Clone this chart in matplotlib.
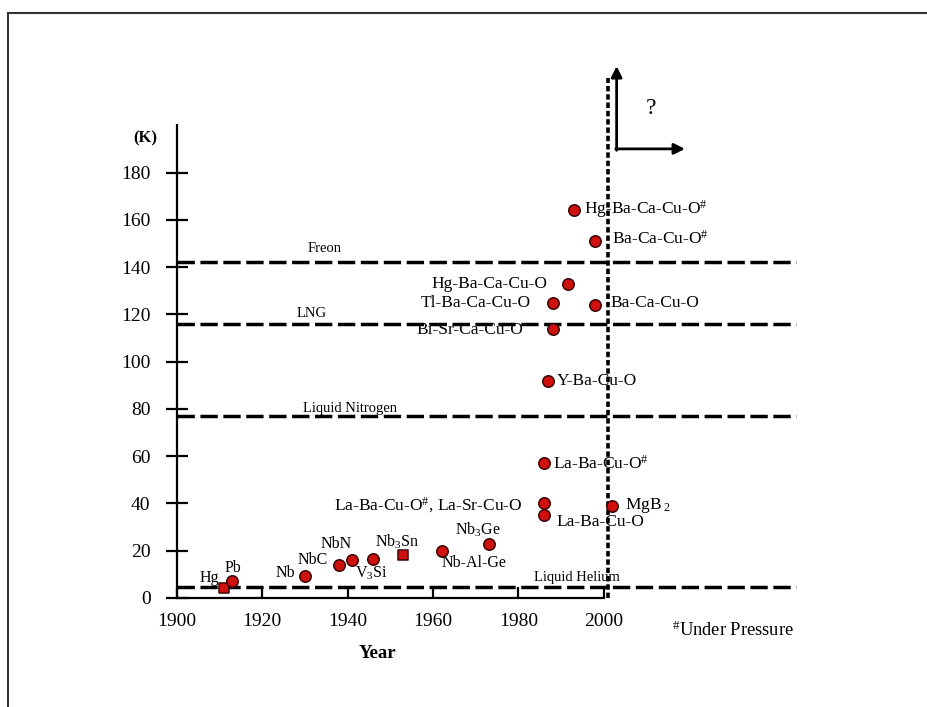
import numpy as np
import matplotlib
matplotlib.use('Agg')
import matplotlib.pyplot as plt
from matplotlib.lines import Line2D

plt.rcParams['font.family'] = 'Liberation Serif'
plt.rcParams['mathtext.fontset'] = 'custom'
plt.rcParams['mathtext.rm'] = 'Liberation Serif'
plt.rcParams['mathtext.it'] = 'Liberation Serif:italic'
plt.rcParams['mathtext.bf'] = 'Liberation Serif:bold'

# superconductors: year, Tc (K)
names = ['Hg', 'Pb', 'Nb', 'NbC', 'NbN', 'V3Si', 'Nb3Sn', 'Nb-Al-Ge', 'Nb3Ge',
         'La-Ba-Cu-O#', 'La-Ba-Cu-O#, La-Sr-Cu-O', 'La-Ba-Cu-O', 'Y-Ba-Cu-O',
         'Bi-Sr-Ca-Cu-O', 'Tl-Ba-Ca-Cu-O', 'Hg-Ba-Ca-Cu-O', 'Hg-Ba-Ca-Cu-O#',
         'Ba-Ca-Cu-O#', 'Ba-Ca-Cu-O', 'MgB2']
years = [1911, 1913, 1930, 1938, 1941, 1946, 1953, 1962, 1973,
         1986, 1986, 1986, 1987, 1988, 1988, 1991.5, 1993, 1998, 1998, 2002]
tc = [4.2, 7.2, 9.2, 14, 16, 16.5, 18, 20, 23,
      57, 40, 35, 92, 114, 125, 133, 164, 151, 124, 39]
square = ['Hg', 'Nb3Sn']

# reference temperatures of coolants
coolants = ['Freon', 'LNG', 'Liquid Nitrogen', 'Liquid Helium']
coolant_t = [142, 116, 77, 4.5]

# label text and placement (x, y, ha, fontsize)
labels = {
    'Hg': ('Hg', 1907.7, 8.5, 'center', 11.5),
    'Pb': ('Pb', 1913.1, 12.7, 'center', 11.5),
    'Nb': ('Nb', 1925.3, 10.6, 'center', 11.5),
    'NbC': ('NbC', 1931.8, 16, 'center', 11.5),
    'NbN': ('NbN', 1937.4, 22.8, 'center', 11.5),
    'V3Si': ('V$_3$Si', 1945.6, 10.6, 'center', 11.5),
    'Nb3Sn': ('Nb$_3$Sn', 1951.7, 23.7, 'center', 11.5),
    'Nb-Al-Ge': ('Nb-Al-Ge', 1969.7, 14.8, 'center', 11.5),
    'Nb3Ge': ('Nb$_3$Ge', 1970.4, 28.8, 'center', 11.5),
    'La-Ba-Cu-O#': ('La-Ba-Cu-O$^{\\#}$', 1988.2, 56.7, 'left', 12.5),
    'La-Ba-Cu-O#, La-Sr-Cu-O': ('La-Ba-Cu-O$^{\\#}$, La-Sr-Cu-O', 1980.9, 39.3, 'right', 12.5),
    'La-Ba-Cu-O': ('La-Ba-Cu-O', 1988.9, 32, 'left', 12.5),
    'Y-Ba-Cu-O': ('Y-Ba-Cu-O', 1988.9, 91.8, 'left', 12.5),
    'Bi-Sr-Ca-Cu-O': ('Bi-Sr-Ca-Cu-O', 1981.2, 113.3, 'right', 12.5),
    'Tl-Ba-Ca-Cu-O': ('Tl-Ba-Ca-Cu-O', 1983, 124.7, 'right', 12.5),
    'Hg-Ba-Ca-Cu-O': ('Hg-Ba-Ca-Cu-O', 1986.8, 132.8, 'right', 12.5),
    'Hg-Ba-Ca-Cu-O#': ('Hg-Ba-Ca-Cu-O$^{\\#}$', 1995.4, 164.5, 'left', 12.5),
    'Ba-Ca-Cu-O#': ('Ba-Ca-Cu-O$^{\\#}$', 2001.8, 152, 'left', 12.5),
    'Ba-Ca-Cu-O': ('Ba-Ca-Cu-O', 2001.5, 124.7, 'left', 12.5),
    'MgB2': ('MgB$_{\\ 2}$', 2005, 39.3, 'left', 12.5),
}
coolant_lab_x = [1934.6, 1931.6, 1940.5, 1993.6]
coolant_lab_dy = [6, 4.5, 3.3, 4]

fig = plt.figure(figsize=(9.27, 7.07), dpi=100)
ax = fig.add_axes([0.1909, 0.1542, 0.6677, 0.7355])
ax.set_xlim(1900, 2045)
ax.set_ylim(0, 220)

for s in ['top', 'right']:
    ax.spines[s].set_visible(False)
ax.spines['left'].set_bounds(0, 200)
ax.spines['bottom'].set_bounds(1900, 2000)
ax.spines['left'].set_linewidth(1.6)
ax.spines['bottom'].set_linewidth(1.6)
ax.set_xticks(np.arange(1900, 2001, 20))
ax.set_yticks(np.arange(0, 181, 20))
ax.tick_params(axis='y', direction='inout', length=16, width=1.6, labelsize=14, pad=11)
ax.tick_params(axis='x', direction='in', length=8, width=1.6, labelsize=14, pad=11)

# coolant lines
for name, t, lx, dy in zip(coolants, coolant_t, coolant_lab_x, coolant_lab_dy):
    ax.plot([1900, 2045], [t, t], color='black', lw=2.5, dashes=(5, 1.6), clip_on=False, zorder=2)
    ax.text(lx, t + dy, name, ha='center', va='center', fontsize=10.5)

# vertical dotted line
ax.plot([2001, 2001], [0, 220], color='black', lw=2.6, dashes=(1.5, 0.8), clip_on=False, zorder=2)

# arrows with question mark
ax.annotate('', xy=(2003, 225), xytext=(2003, 189.4),
            arrowprops=dict(arrowstyle='-|>', lw=2, color='black', mutation_scale=16,
                            shrinkA=0, shrinkB=0), annotation_clip=False)
ax.annotate('', xy=(2019, 190), xytext=(2002.8, 190),
            arrowprops=dict(arrowstyle='-|>', lw=2, color='black', mutation_scale=16,
                            shrinkA=0, shrinkB=0), annotation_clip=False)
ax.text(2011, 207, '?', ha='center', va='center', fontsize=17)

# data points
for n, x, y in zip(names, years, tc):
    m = 's' if n in square else 'o'
    ax.scatter(x, y, s=60 if m == 's' else 68, marker=m, color='#d00f0f',
               edgecolor='#3a0505', lw=1.1, zorder=4, clip_on=False)
    txt, tx, ty, ha, fs = labels[n]
    ax.text(tx, ty, txt, ha=ha, va='center', fontsize=fs, zorder=5)

ax.text(1892.5, 194.5, '(K)', ha='center', va='center', fontsize=12, fontweight='bold')
ax.text(1947, -23.3, 'Year', ha='center', va='center', fontsize=13.5, fontweight='bold')
ax.text(2016, -13.5, '$^{\\#}$Under Pressure', ha='left', va='center', fontsize=13.3)

# frame: only top and left edges
fig.lines.append(Line2D([0.0086, 1.0], [0.981, 0.981], transform=fig.transFigure,
                        color='#333333', lw=1.5))
fig.lines.append(Line2D([0.0086, 0.0086], [0.0, 0.981], transform=fig.transFigure,
                        color='#333333', lw=1.5))

fig.savefig('out.png', dpi=100)
